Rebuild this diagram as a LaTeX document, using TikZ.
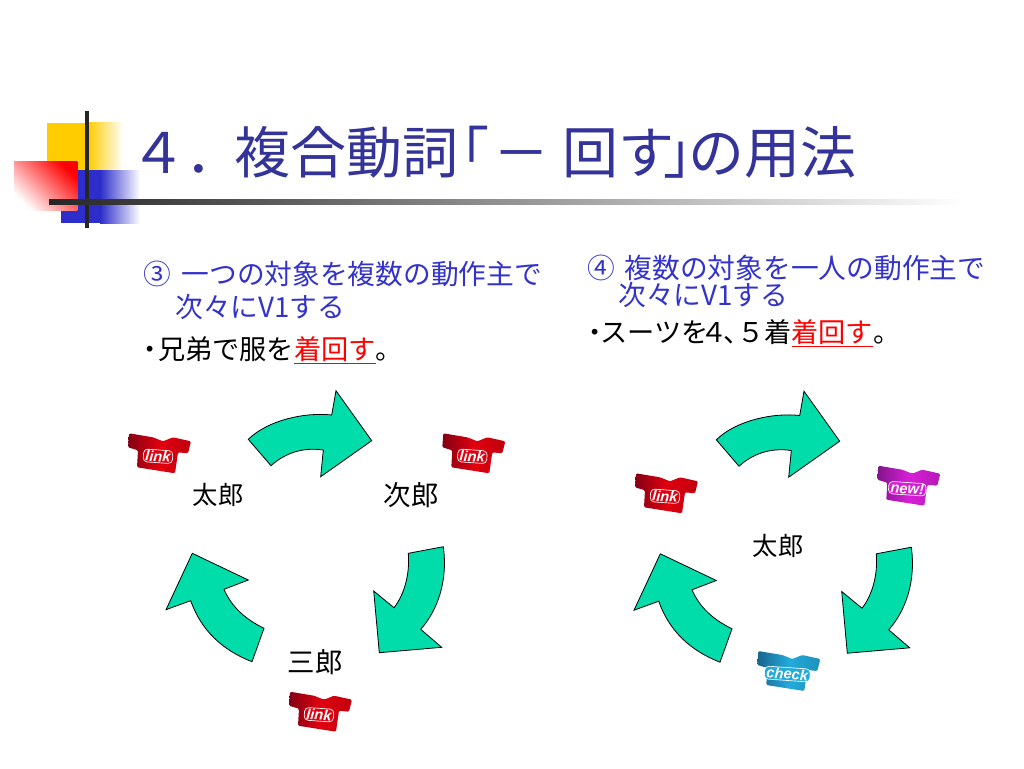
\documentclass[tikz,border=0pt]{standalone}
\usepackage{fontspec}
\setmainfont{Noto Sans CJK JP}
\newfontfamily\shirtfont{Liberation Sans}
\definecolor{titleblue}{RGB}{51,51,153}
\definecolor{headblue}{RGB}{51,51,204}
\definecolor{arrowgreen}{RGB}{0,221,170}
\definecolor{squareyellow}{RGB}{255,204,0}
\definecolor{squareblue}{RGB}{45,45,204}
\definecolor{shirtred}{RGB}{225,0,15}
\definecolor{shirtreddark}{RGB}{130,0,20}
\definecolor{shirtmagenta}{RGB}{215,30,215}
\definecolor{shirtmagentadark}{RGB}{130,20,140}
\definecolor{shirtcyan}{RGB}{35,170,220}
\definecolor{shirtcyandark}{RGB}{25,100,140}
\tikzset{
  titletext/.style={anchor=base west,inner sep=0pt,text=titleblue,font=\fontsize{42}{42}\selectfont},
  headtext/.style={anchor=base west,inner sep=0pt,text=headblue,font=\fontsize{20.8}{20.8}\selectfont},
  bodytext/.style={anchor=base west,inner sep=0pt,text=black,font=\fontsize{20.4}{20.4}\selectfont},
  nametext/.style={inner sep=0pt,text=black,font=\fontsize{19}{19}\selectfont},
  bignametext/.style={nametext,font=\fontsize{20.6}{20.6}\selectfont},
  blockarrow/.style={draw=black,line width=0.6pt,fill=arrowgreen},
}
% top left corner of the shirt, dark colour, main colour, label
\newcommand{\shirt}[4]{
  \begin{scope}[shift={(#1)}]
    \shade[left color=#2,right color=#3!85!black,middle color=#3,rounded corners=1pt] (0,0)-- ++(24,4)-- ++(10,4)-- ++(10,-4)-- ++(18,4)-- ++(-3,12)-- ++(-10,-1)-- ++(-3,21)-- ++(-38,-6)-- ++(1,-17)-- ++(-10,-3)--cycle;
    \node[draw=white,fill=#3,rounded corners=3pt,line width=0.5pt,inner xsep=1.5pt,inner ysep=0.8pt,rotate=-4,text=white,font=\shirtfont\bfseries\itshape\fontsize{11}{11}\selectfont] at (29,23) {#4};
  \end{scope}
}
\newcommand{\cyclearrows}{
  \draw[blockarrow] (248.3,439.3) .. controls (268,420) and (305,412) .. (331.7,415)-- (336,390.7)-- (371.7,440.7)-- (320.7,476.7)-- (323.3,450) .. controls (303,447) and (285,453) .. (271,465.7)--cycle;
  \draw[blockarrow] (443.3,546.7) .. controls (448,580) and (438,610) .. (420.7,629.3)-- (441.7,647.3)-- (379.3,652.7)-- (373.7,591)-- (394,607.7) .. controls (404,595) and (410,575) .. (408.3,553.3)--cycle;
  \draw[blockarrow] (192.3,553.3)-- (248.3,580)-- (224,589.3) .. controls (232,608) and (247,620) .. (264,628.3)-- (252,661.7) .. controls (222,650) and (201,630) .. (190.7,600.7)-- (166,609.7)--cycle;
}

\begin{document}
\begin{tikzpicture}[x=0.75pt,y=-0.75pt]
  \useasboundingbox (0,0) rectangle (1024,768);

  % squares of the corner
  \fill[squareyellow] (46.7,122.7) rectangle (88,170);
  \shade[left color=squareyellow,right color=white] (88,122.7) rectangle (123,170);
  \fill[squareblue] (60.7,170) rectangle (100,223);
  \shade[left color=squareblue,right color=white] (100,170) rectangle (140,223);
  \shade[top color=red,bottom color=white,shading angle=-45] (14,161.7) rectangle (77.3,210);
  \fill[black!85] (85.2,111) rectangle (88.8,228);
  \shade[left color=black!85,right color=white] (49,199) rectangle (965,204);

  \node[titletext] (title) at (130,173) {４\hspace{-0.02em}．\hspace{-0.11em}複合動詞\hspace{-0.45em}「\hspace{0.06em}－\hspace{0.24em}回す\hspace{-0.2em}」\hspace{-0.56em}の用法};

  \node[headtext] (headleft) at (143,284) {③\hspace{0.38em}一つの対象を複数の動作主で};
  \node[headtext] (headleftb) at (175,317) {次々にV1する};
  \node[bodytext] (bodyleft) at (136,359) {・\hspace{-0.2em}兄弟で服を{\color{red}\underline{着回す}}。};

  \node[headtext] (headright) at (587,278) {④\hspace{0.35em}複数の対象を一人の動作主で};
  \node[headtext] (headrightb) at (618,305) {次々にV1する};
  \node[bodytext] (bodyright) at (581,342) {・\hspace{-0.3em}スーツを\hspace{-0.3em}４\hspace{-0.15em}、\hspace{-0.5em}５着{\color{red}\underline{着回す}}。};

  \cyclearrows
  \begin{scope}[shift={(468,0.5)}]
    \cyclearrows
  \end{scope}

  \node[nametext] (taro) at (218,495) {太郎};
  \node[bignametext] (jiro) at (411,495) {次郎};
  \node[bignametext] (saburo) at (315,662) {三郎};
  \node[nametext] (tarob) at (778,546) {太郎};

  \shirt{129,433.3}{shirtreddark}{shirtred}{link}
  \shirt{443.3,433.3}{shirtreddark}{shirtred}{link}
  \shirt{290,691.7}{shirtreddark}{shirtred}{link}
  \shirt{636,473.3}{shirtreddark}{shirtred}{link}
  \shirt{878.3,465.7}{shirtmagentadark}{shirtmagenta}{new!}
  \shirt{758.3,651}{shirtcyandark}{shirtcyan}{check}
\end{tikzpicture}
\end{document}
